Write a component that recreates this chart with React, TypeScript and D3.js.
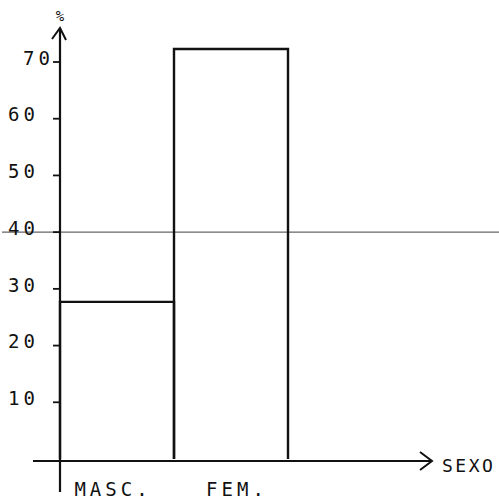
import React, { useRef, useEffect } from 'react';
import * as d3 from 'd3';

const categories = ['MASC.', 'FEM.'];
const percents = [27.7, 72.3];
const yTicks = [10, 20, 30, 40, 50, 60, 70];
const refValue = 40;
const xTitle = 'SEXO';
const yTitle = '%';

const W = 499;
const H = 503;
const FONT = '"DejaVu Sans Mono", monospace';

const App: React.FC = () => {
  const svgRef = useRef<SVGSVGElement>(null);

  useEffect(() => {
    if (!svgRef.current) return;
    const svg = d3.select(svgRef.current);
    svg.selectAll('*').remove();

    const x = d3.scaleBand<string>().domain(categories).range([60, 288]).padding(0);
    const y = d3.scaleLinear().domain([0, 70]).range([459, 62]);
    const x0 = x.range()[0];
    const y0 = y(0);

    const ink = '#111';

    // reference line at 40%
    svg.append('line')
      .attr('x1', 2).attr('x2', W)
      .attr('y1', y(refValue)).attr('y2', y(refValue))
      .attr('stroke', '#666').attr('stroke-width', 1.2);

    // bars (open rectangles)
    const g = svg.append('g').attr('class', 'bars');
    categories.forEach((c, i) => {
      const left = x(c)!;
      const right = left + x.bandwidth();
      const top = y(percents[i]);
      g.append('path')
        .attr('d', d3.line()([[left, y0], [left, top], [right, top], [right, y0]]) as string)
        .attr('fill', 'none')
        .attr('stroke', ink)
        .attr('stroke-width', 2.4);
    });

    // axes
    svg.append('line')
      .attr('x1', x0).attr('x2', x0)
      .attr('y1', 30).attr('y2', 492)
      .attr('stroke', ink).attr('stroke-width', 2.2);
    svg.append('path')
      .attr('d', `M${x0 - 8},39 L${x0},28 L${x0 + 6},40`)
      .attr('fill', 'none').attr('stroke', ink).attr('stroke-width', 2);

    svg.append('line')
      .attr('x1', 33).attr('x2', 431)
      .attr('y1', y0 + 2).attr('y2', y0 + 2)
      .attr('stroke', ink).attr('stroke-width', 2);
    svg.append('path')
      .attr('d', `M420,${y0 - 7} L432,${y0 + 2} L420,${y0 + 11}`)
      .attr('fill', 'none').attr('stroke', ink).attr('stroke-width', 2);

    // y ticks and labels
    const ticks = svg.append('g').attr('class', 'y-ticks');
    yTicks.forEach((v) => {
      ticks.append('line')
        .attr('x1', x0 - 7).attr('x2', x0)
        .attr('y1', y(v)).attr('y2', y(v))
        .attr('stroke', ink).attr('stroke-width', 1.8);
      ticks.append('text')
        .attr('x', v === 70 ? 23 : 8)
        .attr('y', y(v) - 4)
        .attr('dy', '0.35em')
        .attr('font-family', FONT)
        .attr('font-size', 19)
        .attr('letter-spacing', 4)
        .attr('fill', ink)
        .text(v);
    });

    svg.append('text')
      .attr('x', x0).attr('y', 21)
      .attr('text-anchor', 'middle')
      .attr('font-family', FONT)
      .attr('font-size', 14)
      .attr('fill', ink)
      .text(yTitle);

    // category labels
    categories.forEach((c) => {
      svg.append('text')
        .attr('x', x(c)! + x.bandwidth() / 2 + (c === 'FEM.' ? 6 : -4))
        .attr('y', 496)
        .attr('text-anchor', 'middle')
        .attr('font-family', FONT)
        .attr('font-size', 19)
        .attr('letter-spacing', 4)
        .attr('fill', ink)
        .text(c);
    });

    svg.append('text')
      .attr('x', 442).attr('y', 472)
      .attr('font-family', FONT)
      .attr('font-size', 18)
      .attr('letter-spacing', 2.5)
      .attr('fill', ink)
      .text(xTitle);
  }, []);

  return (
    <div style={{ position: 'absolute', left: 0, top: 0, width: W, height: H, background: '#fff' }}>
      <svg ref={svgRef} width={W} height={H} />
    </div>
  );
};

export default App;
